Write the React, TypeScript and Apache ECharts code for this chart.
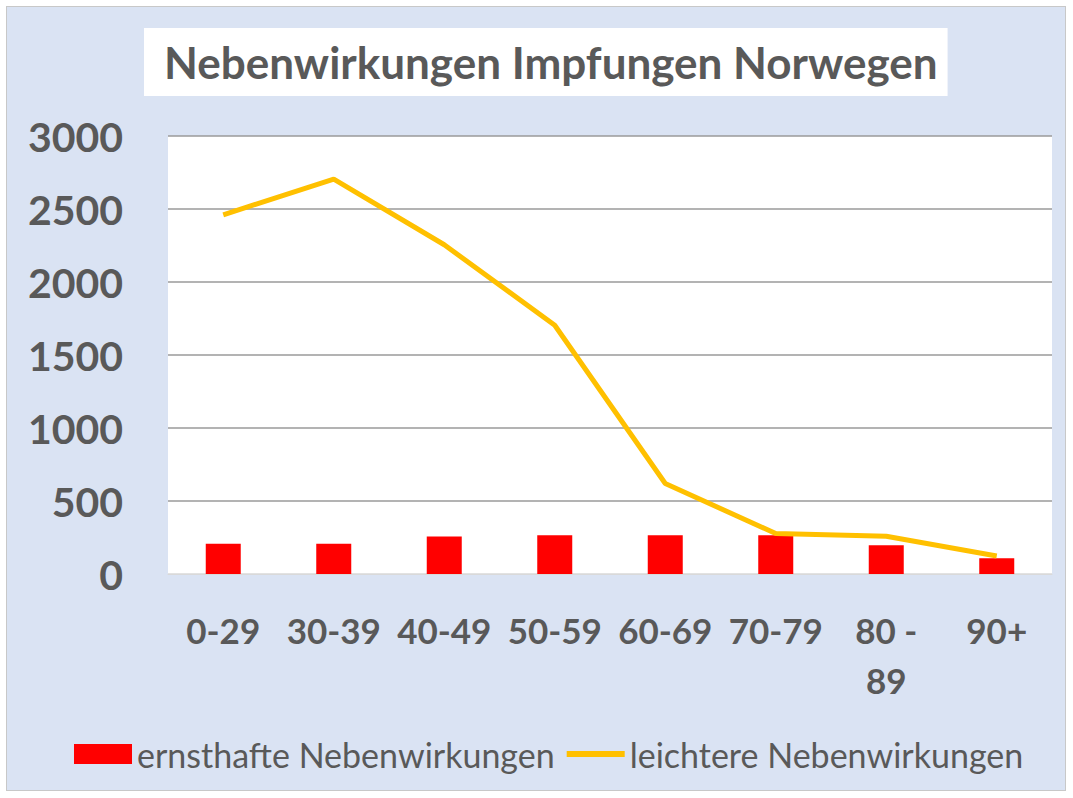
import React, { useEffect, useRef } from "react";
import * as echarts from "echarts";

const titleText = "Nebenwirkungen Impfungen Norwegen";
const categories = ["0-29", "30-39", "40-49", "50-59", "60-69", "70-79", "80 - 89", "90+"];
const seriousName = "ernsthafte Nebenwirkungen";
const mildName = "leichtere Nebenwirkungen";
const seriousValues = [208, 208, 257, 266, 266, 266, 197, 108];
const mildValues = [2460, 2705, 2255, 1704, 620, 277, 259, 123];
const yMin = 0;
const yMax = 3000;
const yStep = 500;

const textGray = "#595959";

export default function App() {
  const ref = useRef<HTMLDivElement>(null);

  useEffect(() => {
    if (!ref.current) return;
    const chart = echarts.init(ref.current, undefined, { renderer: "svg" });
    chart.setOption({
      animation: false,
      backgroundColor: "transparent",
      title: {
        text: titleText,
        left: 144,
        top: 28,
        padding: [10, 10, 10, 20],
        backgroundColor: "#ffffff",
        textStyle: {
          fontFamily: "Lato",
          fontWeight: "bold",
          fontSize: 44,
          lineHeight: 48,
          color: textGray,
        },
      },
      legend: {
        left: 74,
        top: 737,
        padding: 0,
        itemWidth: 58,
        itemHeight: 20,
        itemGap: 12,
        textStyle: {
          fontFamily: "Lato",
          fontSize: 34,
          lineHeight: 32,
          color: textGray,
        },
        data: [
          { name: seriousName, icon: "rect" },
          { name: mildName, icon: "path://M0,0H60V6H0Z" },
        ],
      },
      grid: {
        left: 168,
        right: 21,
        top: 136,
        bottom: 224,
        show: true,
        backgroundColor: "#ffffff",
        borderWidth: 0,
      },
      xAxis: {
        type: "category",
        data: categories,
        axisTick: { show: false },
        axisLine: { show: true, lineStyle: { color: "#d9d9d9", width: 1 } },
        axisLabel: {
          interval: 0,
          margin: 31,
          fontFamily: "Lato",
          fontWeight: "bold",
          fontSize: 35,
          lineHeight: 50,
          color: textGray,
          formatter: (v: string) => v.replace(" - ", " -\n"),
        },
      },
      yAxis: {
        type: "value",
        min: yMin,
        max: yMax,
        interval: yStep,
        axisLine: { show: false },
        axisTick: { show: false },
        axisLabel: {
          margin: 45,
          fontFamily: "Lato",
          fontWeight: "bold",
          fontSize: 41,
          color: textGray,
          formatter: (v: number) => String(v),
        },
        splitLine: {
          show: true,
          lineStyle: {
            color: ["#d9d9d9", "#9a9a9a", "#9a9a9a", "#9a9a9a", "#9a9a9a", "#9a9a9a", "#9a9a9a"],
            width: 1.5,
          },
        },
      },
      series: [
        {
          name: seriousName,
          type: "bar",
          data: seriousValues,
          barWidth: 35,
          itemStyle: { color: "#ff0000" },
          z: 2,
        },
        {
          name: mildName,
          type: "line",
          data: mildValues,
          symbol: "none",
          showSymbol: false,
          lineStyle: { color: "#ffc000", width: 5 },
          itemStyle: { color: "#ffc000" },
          z: 3,
        },
      ],
    });
    return () => chart.dispose();
  }, []);

  return (
    <div style={{ position: "absolute", left: 0, top: 0, width: 1073, height: 798, background: "#ffffff" }}>
      <div
        style={{
          position: "absolute",
          left: 6,
          top: 6,
          width: 1058,
          height: 783,
          background: "#dae3f3",
          border: "1.5px solid #c8c8c8",
        }}
      />
      <div ref={ref} style={{ position: "absolute", left: 0, top: 0, width: 1073, height: 798 }} />
    </div>
  );
}
